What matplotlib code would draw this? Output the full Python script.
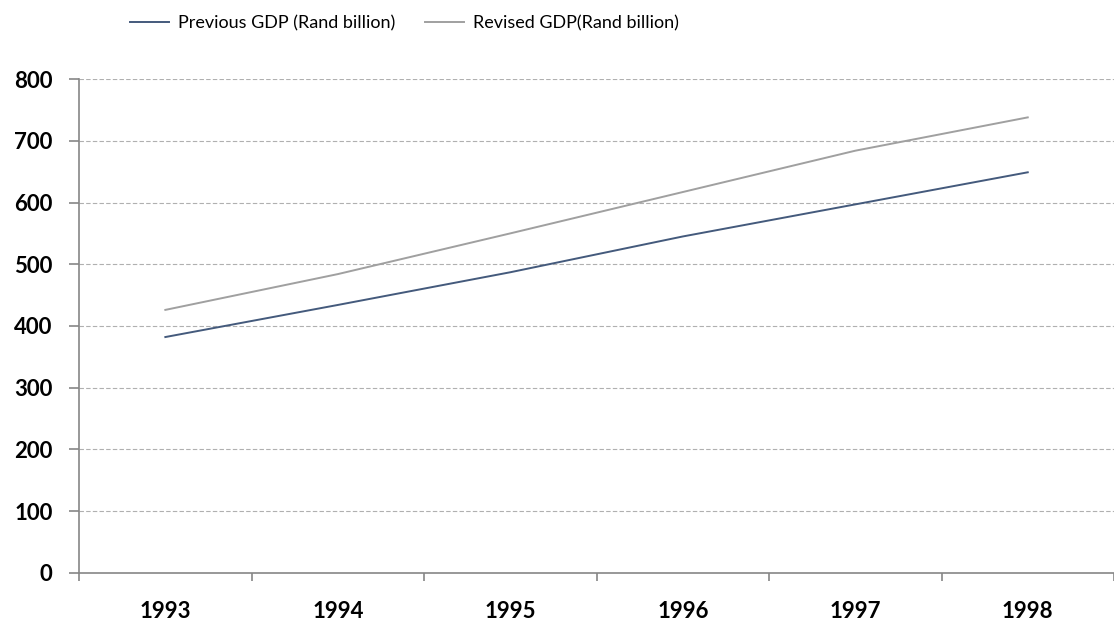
import numpy as np
import matplotlib.pyplot as plt

years = ['1993', '1994', '1995', '1996', '1997', '1998']
previous_gdp = [382, 434, 487, 545, 597, 649]
revised_gdp = [426, 484, 550, 617, 684, 738]

plt.rcParams['font.family'] = ['Lato', 'DejaVu Sans']

fig = plt.figure(figsize=(11.14, 6.28), dpi=100)
ax = fig.add_axes([0.071, 0.088, 0.929, 0.786])

x = np.arange(len(years))
ax.plot(x, previous_gdp, color='#445a7c', lw=1.4, label='Previous GDP (Rand billion)')
ax.plot(x, revised_gdp, color='#a0a0a0', lw=1.4, label='Revised GDP(Rand billion)')

ax.set_xlim(-0.5, len(years) - 0.5)
ax.set_ylim(0, 800)
ax.set_yticks(range(0, 801, 100))
ax.set_xticks(x)
ax.set_xticklabels(years)
ax.set_xticks(np.arange(-0.5, len(years)), minor=True)

# gridlines only above zero
for v in range(100, 801, 100):
    ax.axhline(v, color='#b0b0b0', lw=0.8, ls=(0, (4, 2)), zorder=0)

for s in ['top', 'right']:
    ax.spines[s].set_visible(False)
for s in ['left', 'bottom']:
    ax.spines[s].set_color('#868686')
    ax.spines[s].set_linewidth(1.2)

ax.tick_params(axis='x', which='major', length=0, pad=20, labelsize=16)
ax.tick_params(axis='x', which='minor', length=6, color='#868686', width=1.2)
ax.tick_params(axis='y', length=7, color='#868686', width=1.2, pad=12, labelsize=16)
for lab in ax.get_xticklabels() + ax.get_yticklabels():
    lab.set_fontweight('bold')

fig.legend(loc='center', bbox_to_anchor=(0.363, 0.963), ncol=2, frameon=False,
           fontsize=13, handlelength=2.2, handletextpad=0.5, columnspacing=1.6)

fig.savefig('out.png', dpi=100)
